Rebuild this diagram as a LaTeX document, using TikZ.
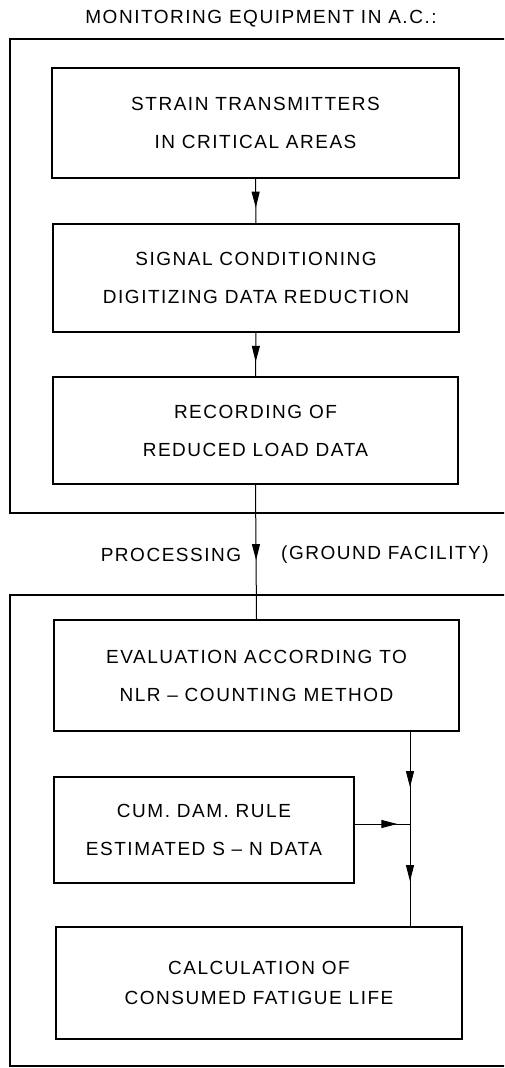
\documentclass[tikz,border=0pt]{standalone}
\usepackage{fontspec}
\setmainfont{Liberation Sans}[LetterSpace=8]
\usetikzlibrary{arrows.meta,decorations.markings}
\begin{document}
\begin{tikzpicture}[x=1pt,y=-1pt,
  txt/.style={font=\fontsize{19}{38}\selectfont, inner sep=0pt},
  box/.style={draw, line width=1.8pt, inner sep=0pt, align=center,
    font=\fontsize{19}{38}\selectfont},
  outer/.style={draw, line width=1.4pt},
  conn/.style={line width=1pt},
  midarrow/.style={postaction={decorate}, decoration={markings,
    mark=at position #1 with {\arrow{Triangle[length=16pt,width=8pt]}}}}]
\useasboundingbox (0,0) rectangle (504,1068);
\clip (0,0) rectangle (504,1068);
% outer frames
\draw[outer] (10,39) rectangle (530,513);
\draw[outer] (10,595) rectangle (530,1066);
% title and labels
\node[txt] (title) at (261,19) {MONITORING EQUIPMENT IN A.C.:};
\node[txt] (proc) at (171,555) {PROCESSING};
\node[txt] (gf) at (385,555) {(GROUND FACILITY)};
% boxes
\node[box, minimum width=407pt, minimum height=110pt] (A) at (255.5,123)
  {STRAIN TRANSMITTERS\\IN CRITICAL AREAS};
\node[box, minimum width=406pt, minimum height=108pt] (B) at (256,278)
  {SIGNAL CONDITIONING\\DIGITIZING DATA REDUCTION};
\node[box, minimum width=405pt, minimum height=107pt] (C) at (255.5,430.5)
  {RECORDING OF\\REDUCED LOAD DATA};
\node[box, minimum width=405pt, minimum height=111pt] (D) at (256.5,675.5)
  {EVALUATION ACCORDING TO\\NLR – COUNTING METHOD};
\node[box, minimum width=300pt, minimum height=106pt] (E) at (204,830)
  {CUM. DAM. RULE\\ESTIMATED S – N DATA};
\node[box, minimum width=406pt, minimum height=112pt,
  font=\fontsize{19}{30}\selectfont] (F) at (259,983)
  {CALCULATION OF\\CONSUMED FATIGUE LIFE};
\coordinate (j) at (410,824);
% connectors
\draw[conn, midarrow=0.65] (A.south) -- (B.north);
\draw[conn, midarrow=0.67] (B.south) -- (C.north);
\draw[conn, midarrow=0.56] (C.south) -- (D.north);
\draw[conn, midarrow=0.60] (D.south -| j) -- (j);
\draw[conn, midarrow=0.56] (j) -- (F.north -| j);
\draw[conn, midarrow=0.77] (E.east |- j) -- (j);
\end{tikzpicture}
\end{document}
